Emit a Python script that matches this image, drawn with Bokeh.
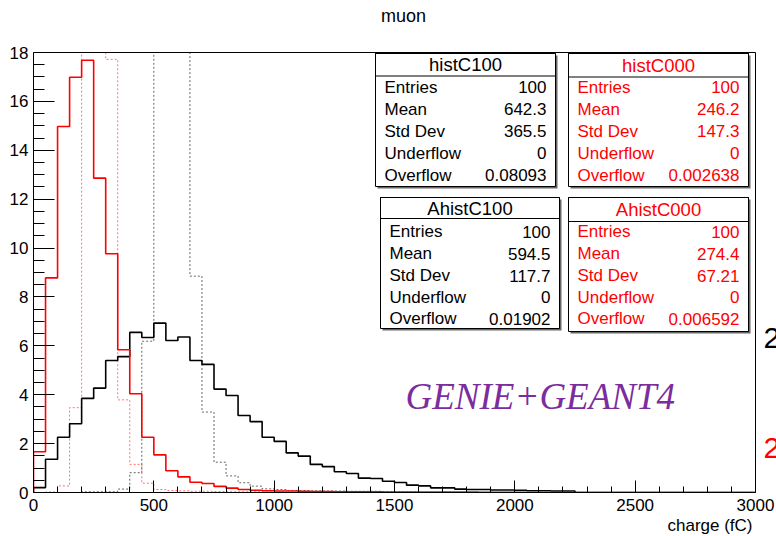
from bokeh.plotting import figure
from bokeh.models import Range1d, FixedTicker, Label, BoxAnnotation, Title
from bokeh.embed import file_html
from bokeh.resources import INLINE

# ---------------- data ----------------
bin_width = 50
n_bins = 60

# histC100 (black solid)
histC100 = [0.20, 1.36, 2.26, 2.81, 3.85, 4.27, 5.40, 5.56, 6.55, 6.34,
            6.93, 6.22, 6.36, 5.40, 5.24, 4.23, 3.97, 3.15, 2.90, 2.26,
            2.09, 1.62, 1.49, 1.15, 1.06, 0.85, 0.78, 0.59, 0.57, 0.46,
            0.41, 0.30, 0.27, 0.19, 0.19, 0.14, 0.12, 0.12, 0.10, 0.10,
            0.09, 0.07, 0.07, 0.06, 0.06, 0.0, 0.0, 0.0, 0.0, 0.0,
            0.0, 0.0, 0.0, 0.0, 0.0, 0.0, 0.0, 0.0, 0.0, 0.0]
# histC000 (red solid)
histC000 = [1.67, 8.78, 14.97, 16.99, 17.68, 12.86, 9.77, 5.84, 4.04, 2.26,
            1.54, 0.89, 0.64, 0.42, 0.37, 0.25, 0.18, 0.12, 0.09, 0.07,
            0.06, 0.06, 0.05, 0.04, 0.04, 0.03, 0.03, 0.03, 0.03, 0.02,
            0.02, 0.02, 0.02, 0.02, 0.02, 0.02, 0.02, 0.01, 0.01, 0.01,
            0.01, 0.0, 0.0, 0.0, 0.0, 0.0, 0.0, 0.0, 0.0, 0.0,
            0.0, 0.0, 0.0, 0.0, 0.0, 0.0, 0.0, 0.0, 0.0, 0.0]
# AhistC100 (black dotted)
AhistC100 = [0.0, 0.0, 0.0, 0.0, 0.03, 0.03, 0.03, 0.14, 0.81, 6.19,
             22.0, 30.0, 25.0, 8.85, 3.29, 1.24, 0.68, 0.40, 0.26, 0.15,
             0.12, 0.08, 0.08, 0.07, 0.06, 0.06, 0.05, 0.05, 0.05, 0.04,
             0.03, 0.03, 0.0, 0.0, 0.0, 0.0, 0.0, 0.0, 0.0, 0.0,
             0.0, 0.0, 0.0, 0.0, 0.0, 0.0, 0.0, 0.0, 0.0, 0.0,
             0.0, 0.0, 0.0, 0.0, 0.0, 0.0, 0.0, 0.0, 0.0, 0.0]
# AhistC000 (red dotted)
AhistC000 = [0.0, 0.02, 0.27, 3.47, 30.0, 42.0, 17.72, 3.79, 1.15, 0.38,
             0.12, 0.08, 0.07, 0.05, 0.05, 0.04, 0.03, 0.03, 0.03, 0.02,
             0.02, 0.0, 0.0, 0.0, 0.0, 0.0, 0.0, 0.0, 0.0, 0.0,
             0.0, 0.0, 0.0, 0.0, 0.0, 0.0, 0.0, 0.0, 0.0, 0.0,
             0.0, 0.0, 0.0, 0.0, 0.0, 0.0, 0.0, 0.0, 0.0, 0.0,
             0.0, 0.0, 0.0, 0.0, 0.0, 0.0, 0.0, 0.0, 0.0, 0.0]

x_ticks = [0, 500, 1000, 1500, 2000, 2500, 3000]
x_tick_labels = ["0", "500", "1000", "1500", "2000", "2500", "3000"]
y_ticks = [0, 2, 4, 6, 8, 10, 12, 14, 16, 18]
y_tick_labels = ["0", "2", "4", "6", "8", "10", "12", "14", "16", "18"]

stat_names = ["Entries", "Mean", "Std Dev", "Underflow", "Overflow"]
stats_histC100 = ["100", "642.3", "365.5", "0", "0.08093"]
stats_histC000 = ["100", "246.2", "147.3", "0", "0.002638"]
stats_AhistC100 = ["100", "594.5", "117.7", "0", "0.01902"]
stats_AhistC000 = ["100", "274.4", "67.21", "0", "0.006592"]

# ---------------- layout ----------------
W, H = 776, 536
FL, FR, FT, FB = 33, 755, 52, 492     # pixel box of the axes frame
X0, X1, Y0, Y1 = 0, 3000, 0, 18


def px2x(px):
    return X0 + (px - FL) / (FR - FL) * (X1 - X0)


def px2y(py):
    return Y0 + (FB - py) / (FB - FT) * (Y1 - Y0)


# the bokeh frame covers the title and right margin too, the axes box is drawn explicitly
p = figure(width=W, height=H, x_range=Range1d(X0, px2x(W)), y_range=Range1d(Y0, px2y(0)),
           output_backend="svg", toolbar_location=None, title=None,
           min_border_left=FL, min_border_right=0,
           min_border_top=0, min_border_bottom=H - FB)
p.background_fill_color = "white"
p.border_fill_color = "white"
p.outline_line_color = None
p.xgrid.visible = False
p.ygrid.visible = False

FONT = "Liberation Sans"

xminor = [v for v in range(0, 3001, 100) if v % 500 != 0]
p.xaxis.ticker = FixedTicker(ticks=x_ticks, minor_ticks=xminor)
p.xaxis.major_label_overrides = {t: l for t, l in zip(x_ticks, x_tick_labels)}
p.xaxis.bounds = (X0, X1)
p.xaxis.major_tick_in = 12
p.xaxis.major_tick_out = 0
p.xaxis.minor_tick_in = 6
p.xaxis.minor_tick_out = 0
p.xaxis.major_label_standoff = 6
yminor = [k * 0.5 for k in range(0, 37) if (k * 0.5) % 2 != 0]
p.yaxis.ticker = FixedTicker(ticks=y_ticks, minor_ticks=yminor)
p.yaxis.major_label_overrides = {t: l for t, l in zip(y_ticks, y_tick_labels)}
p.yaxis.bounds = (Y0, Y1)
p.yaxis.major_tick_in = 21
p.yaxis.major_tick_out = 0
p.yaxis.minor_tick_in = 11
p.yaxis.minor_tick_out = 0
p.yaxis.major_label_standoff = 5
for ax in (p.xaxis, p.yaxis):
    ax.major_label_text_font = FONT
    ax.major_label_text_font_size = "17px"
    ax.major_label_text_color = "black"
    ax.axis_line_color = "black"
    ax.major_tick_line_color = "black"
    ax.minor_tick_line_color = "black"

p.add_layout(Title(text="charge (fC)", align="right", offset=24, standoff=0,
                   text_font=FONT, text_font_size="17px", text_font_style="normal",
                   text_color="black"), "below")


def step_path(vals):
    # histogram outline, clipped at the top of the axes box
    xs, ys = [0], [0]
    for k, v in enumerate(vals):
        vv = min(v, Y1)
        xs += [k * bin_width, (k + 1) * bin_width]
        ys += [vv, vv]
    xs.append(len(vals) * bin_width)
    ys.append(0)
    return xs, ys


xs, ys = step_path(AhistC100)
p.line(xs, ys, line_color="black", line_alpha=0.6, line_width=1, line_dash="2 2")
xs, ys = step_path(AhistC000)
p.line(xs, ys, line_color="red", line_alpha=0.55, line_width=1, line_dash="2 2")
xs, ys = step_path(histC100)
p.line(xs, ys, line_color="black", line_width=1.6)
xs, ys = step_path(histC000)
p.line(xs, ys, line_color="red", line_width=1.6)

# axes box
p.add_layout(BoxAnnotation(left=X0, right=X1, bottom=Y0, top=Y1, fill_alpha=0,
                           line_color="black", line_alpha=1, line_width=1))


def label(text, px, py, size="17px", color="black", align="left", font=FONT, style="normal"):
    p.add_layout(Label(x=px2x(px), y=px2y(py), text=text, text_font=font,
                       text_font_size=size, text_color=color, text_align=align,
                       text_baseline="middle", text_font_style=style))


def stat_box(name, values, color, l, r, t, sep, b, lab_x, val_x, rows_y):
    p.add_layout(BoxAnnotation(left=px2x(l + 2), right=px2x(r + 2), top=px2y(t + 2),
                               bottom=px2y(b + 2), fill_color="#666666", fill_alpha=1,
                               line_alpha=0))
    p.add_layout(BoxAnnotation(left=px2x(l), right=px2x(r), top=px2y(t), bottom=px2y(b),
                               fill_color="white", fill_alpha=1, line_color="black",
                               line_alpha=1, line_width=1))
    p.add_layout(BoxAnnotation(left=px2x(l), right=px2x(r), top=px2y(t), bottom=px2y(sep),
                               fill_alpha=0, line_color="black", line_alpha=1, line_width=1))
    label(name, (l + r) / 2, (t + sep) / 2, size="18.5px", color=color, align="center")
    for nm, val, yy in zip(stat_names, values, rows_y):
        label(nm, lab_x, yy, color=color)
        label(val, val_x, yy, color=color, align="right")


rows_top = [86.5, 108.5, 130.5, 152.5, 174.5]
rows_bot = [231, 253, 275, 296.5, 318]
stat_box("histC100", stats_histC100, "black", 375, 555, 53, 75.5, 186, 384, 546, rows_top)
stat_box("histC000", stats_histC000, "red", 568, 748, 53, 76.5, 186, 577, 739, rows_top)
stat_box("AhistC100", stats_AhistC100, "black", 380, 559, 197, 218, 328, 389, 550, rows_bot)
stat_box("AhistC000", stats_AhistC000, "red", 568, 748, 197, 221, 331, 577, 739, rows_bot)

label("GENIE+GEANT4", 405, 396, size="37px", color="#7b2d9e", font="Liberation Serif", style="italic")
label("muon", 403, 15, size="18px", align="center")
label("2", 763, 337, size="30px", color="black")
label("2", 763, 447, size="30px", color="red")

open("out.html", "w").write(file_html(p, INLINE))
